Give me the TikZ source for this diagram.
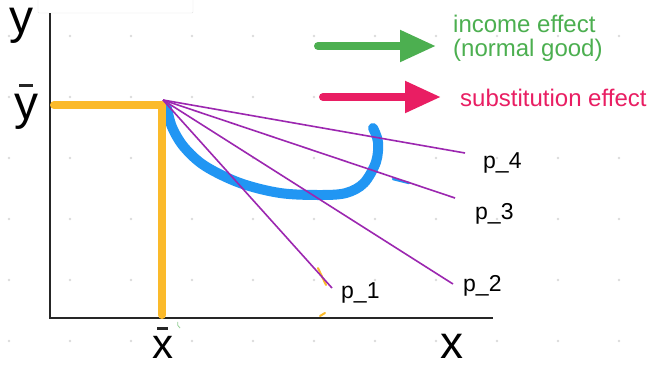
\documentclass[tikz,border=0pt]{standalone}
\usepackage{fontspec}
\setmainfont{Liberation Sans}
\usetikzlibrary{arrows.meta}
\definecolor{orng}{RGB}{251,186,42}
\definecolor{bluec}{RGB}{33,150,243}
\definecolor{purp}{RGB}{156,39,176}
\definecolor{grn}{RGB}{76,175,80}
\definecolor{pnk}{RGB}{233,30,99}
\tikzset{
  axisline/.style={line width=2.6pt, black!85},
  orangeL/.style={line width=8pt, orng, line cap=round, line join=round},
  budget/.style={line width=1.6pt, purp},
  bluecurve/.style={line width=10pt, bluec, line cap=round, line join=round},
  effarrow/.style={line width=8pt, line cap=round, -{Triangle[length=36pt,width=30pt]}},
  plab/.style={font=\fontsize{23}{26}\selectfont, anchor=base west, inner sep=0pt},
  biglbl/.style={font=\fontsize{48}{54}\selectfont, anchor=base, inner sep=0pt, text height=0.52em},
  lgtext/.style={font=\fontsize{24}{28}\selectfont, anchor=base west, inner sep=0pt},
  griddot/.style={fill=gray!28},
  barline/.style={line width=3pt, black!85}
}
\begin{document}
\begin{tikzpicture}[x=1pt,y=-1pt]
\useasboundingbox (0,0) rectangle (660,365);
\fill[white] (0,0) rectangle (660,365);
% dot grid
\foreach \i in {0,...,10}{
  \foreach \j in {0,...,5}{
    \fill[griddot] (9+61*\i,36+61*\j) circle (1.4);
  }
}
% faint box at top
\draw[gray!22, fill=white, rounded corners=1pt] (38,-3) rectangle (193,13);
% axes
\coordinate (ytop) at (50,13);
\coordinate (orig) at (50,318);
\coordinate (xend) at (493,318);
\draw[axisline] (ytop) -- (orig) -- (xend);
% axis labels
\node[biglbl, text depth=0.21em] (ylab) at (21.5,33) {y};
\node[biglbl, text depth=0.21em] (ybar) at (26.5,119) {y};
\draw[barline] (19,85) -- (33,85);
\node[biglbl, text depth=0pt, font=\fontsize{42}{48}\selectfont] (xbar) at (162.5,358) {x};
\draw[barline] (157,328) -- (168,328);
\node[biglbl, text depth=0pt, font=\fontsize{46}{52}\selectfont] (xlab) at (451.5,358) {x};
% blue curve
\draw[bluecurve] plot[smooth, tension=0.55] coordinates {(167,108) (172,127) (184,147) (205,166) (240,183) (280,193) (320,195) (346,193) (364,183) (376,162) (378,142) (373,128)};
\draw[bluec, line width=2.5pt, line cap=round] (393,179) -- (409,183);
% orange endowment lines
\coordinate (ostart) at (54,105);
\coordinate (ocorner) at (162,105);
\coordinate (obottom) at (162,315);
\draw[orangeL] (ostart) -- (ocorner) -- (obottom);
\draw[orng, line width=2pt, line cap=round] (318,268) -- (326,285);
\draw[orng, line width=2pt, line cap=round] (320,316) -- (325,313);
\draw[grn!60, line width=0.8pt] (180,328) arc (120:200:5);
% budget lines
\coordinate (O) at (163,100);
\coordinate (e1) at (332,288);
\coordinate (e2) at (453,284);
\coordinate (e3) at (455,198);
\coordinate (e4) at (465,153);
\draw[budget] (O) -- (e1);
\draw[budget] (O) -- (e2);
\draw[budget] (O) -- (e3);
\draw[budget] (O) -- (e4);
\node[plab] (p1) at (341,298) {p\_1};
\node[plab] (p2) at (463,291) {p\_2};
\node[plab] (p3) at (475,219) {p\_3};
\node[plab] (p4) at (483,168) {p\_4};
% legend
\coordinate (ga) at (318,46);
\coordinate (gb) at (436,46);
\draw[effarrow, grn] (ga) -- (gb);
\node[lgtext, text=grn] (inc1) at (453,32) {income effect};
\node[lgtext, text=grn] (inc2) at (453,56) {(normal good)};
\coordinate (pa) at (323,97);
\coordinate (pb) at (441,97);
\draw[effarrow, pnk] (pa) -- (pb);
\node[lgtext, text=pnk] (sub) at (460,106) {substitution effect};
\end{tikzpicture}
\end{document}
